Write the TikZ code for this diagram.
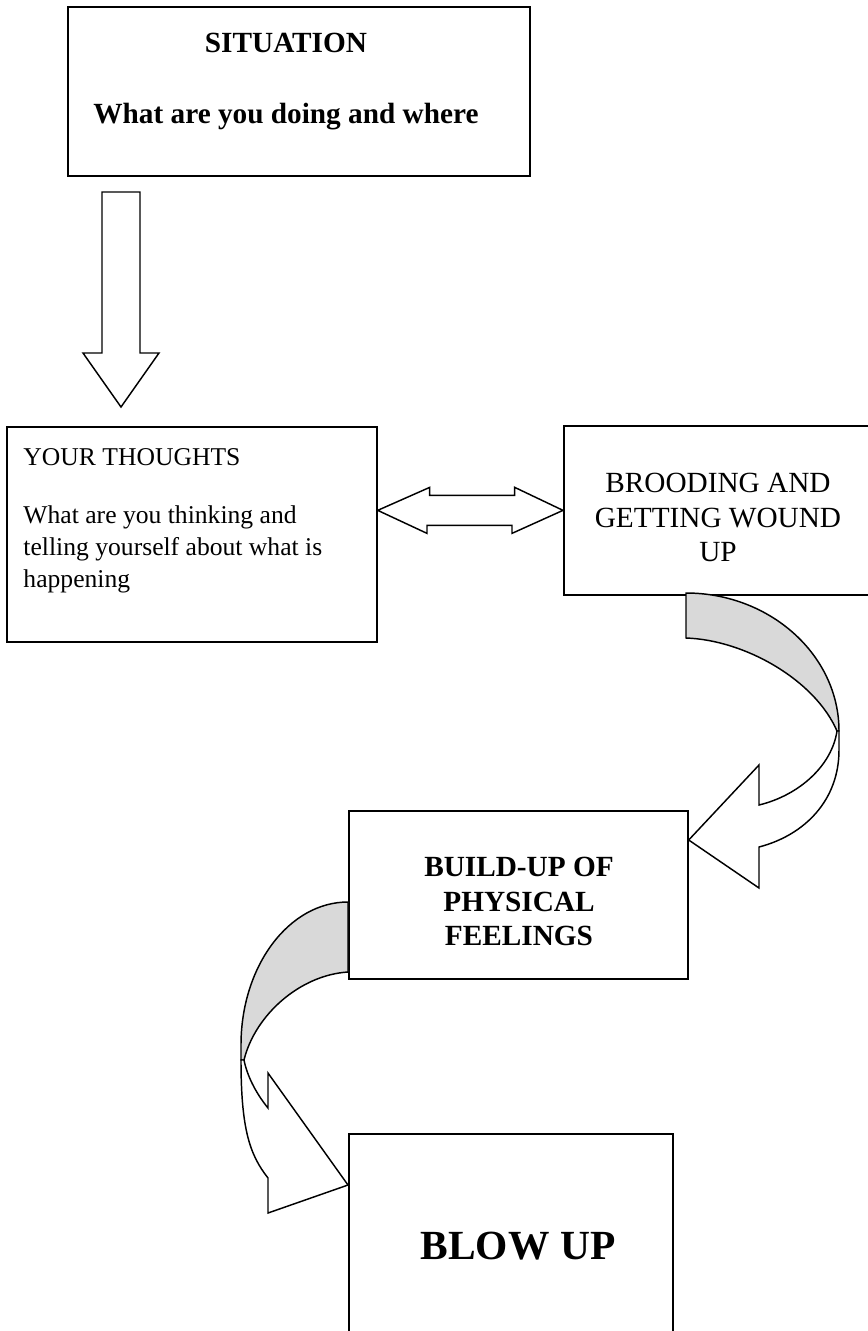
\documentclass[tikz,border=0pt]{standalone}
\usepackage{fontspec}
\setmainfont{Liberation Serif}
\usetikzlibrary{calc}
\definecolor{backgray}{HTML}{D9D9D9}
\newcommand{\pxu}{0.41pt}
\tikzset{
  cbox/.style={rectangle, draw=black, fill=white, line width=0.7pt,
    inner sep=0pt, anchor=north west},
  ctxt/.style={inner sep=0pt, anchor=north, align=#1},
  barr/.style={draw=black, fill=white, line width=0.6pt, line join=miter},
  bback/.style={draw=black, fill=backgray, line width=0.6pt},
}

\begin{document}
\begin{tikzpicture}[x=\pxu, y=-\pxu]
  \useasboundingbox (0,0) rectangle (868,1331);
  \clip (0,0) rectangle (868,1331);
  % boxes
  \node[cbox, minimum width=462*\pxu, minimum height=169*\pxu] (sit) at (67,6) {};
  \node[cbox, minimum width=370*\pxu, minimum height=215*\pxu] (thk) at (6,426) {};
  \node[cbox, minimum width=312*\pxu, minimum height=169*\pxu] (brd) at (563,425) {};
  \node[cbox, minimum width=339*\pxu, minimum height=168*\pxu] (bld) at (348,810) {};
  \node[cbox, minimum width=324*\pxu, minimum height=260*\pxu] (blw) at (348,1133) {};
  % texts
  \node[ctxt=center, font=\fontsize{12}{14.5}\selectfont\bfseries] (sitT) at (286,33)
    {SITUATION\\[14.6pt]What are you doing and where};
  \node[ctxt=left, anchor=north west, font=\fontsize{10.5}{13.1}\selectfont] (thkT) at (23,448)
    {YOUR THOUGHTS\\[10.7pt]What are you thinking and\\telling yourself about what is\\happening};
  \node[ctxt=center, font=\fontsize{12}{14}\selectfont] (brdT) at (718,473)
    {BROODING AND\\GETTING WOUND\\UP};
  \node[ctxt=center, font=\fontsize{12}{14}\selectfont\bfseries] (bldT) at (519,857)
    {BUILD-UP OF\\PHYSICAL\\FEELINGS};
  \node[ctxt=center, font=\fontsize{17}{20}\selectfont\bfseries] (blwT) at (518,1232)
    {BLOW UP};
  % situation -> thoughts
  \draw[barr] (102,192) -- (140,192) -- (140,353) -- (159,353) -- (121,407)
    -- (83,353) -- (102,353) -- cycle;
  % thoughts <-> brooding
  \draw[barr] (thk.east |- brd.west) -- ++(52,-23) -- ++(0,8) -- ++(85,0) -- ++(0,-8)
    -- (brd.west) -- ++(-51,23) -- ++(0,-8) -- ++(-85,0) -- ++(0,8) -- cycle;
  % brooding -> build-up
  \draw[bback] (686,593) -- (686,638) .. controls (745,640) and (815,680) .. (837,731)
    -- (839,731) .. controls (839,655) and (770,593) .. (686,593) -- cycle;
  \draw[barr] (837,731) -- (839,731) -- (839,750) .. controls (839,800) and (805,835) .. (759,847)
    -- (759,888) -- (bld.north east |- 0,840) -- (759,765) -- (759,805)
    .. controls (800,795) and (832,765) .. (837,731) -- cycle;
  % build-up -> blow up
  \draw[bback] (bld.west |- 0,902) -- (bld.west |- 0,972) .. controls (300,975) and (255,1015) .. (244,1060)
    -- (241,1060) -- (241,1045) .. controls (241,966) and (289,902) .. (348,902) -- cycle;
  \draw[barr] (244,1060) -- (241,1060) .. controls (241,1130) and (250,1155) .. (268,1178)
    -- (268,1213) -- (blw.west |- 0,1185) -- (268,1073) -- (268,1108)
    .. controls (255,1092) and (247,1075) .. (244,1060) -- cycle;
\end{tikzpicture}
\end{document}
